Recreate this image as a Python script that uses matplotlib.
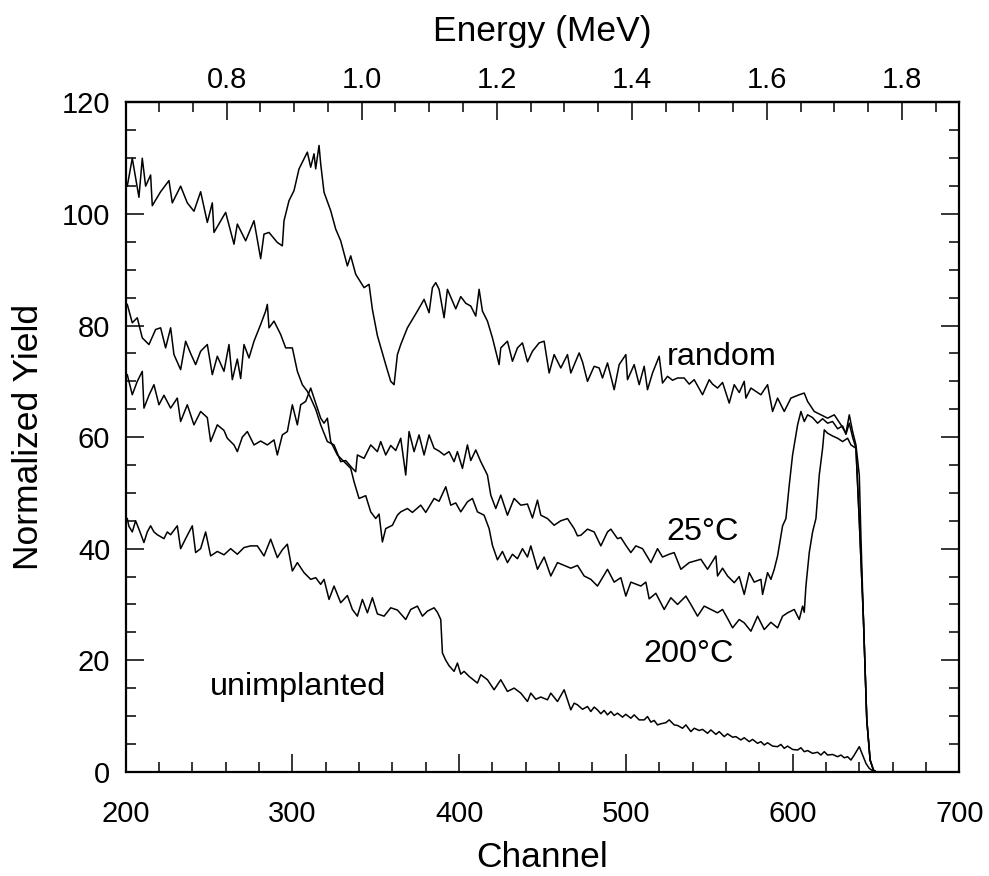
import matplotlib
matplotlib.use("Agg")
import matplotlib.pyplot as plt
from matplotlib.ticker import MultipleLocator
import numpy as np

plt.rcParams['font.family'] = ['Liberation Sans', 'DejaVu Sans']

# ---- data ----
random_ch = [201, 204, 208, 210, 212, 215, 216, 221, 226, 228, 233, 237, 241, 245, 249, 252, 253,
             260, 265, 267, 272, 277, 281, 283, 286, 291, 294, 295, 298, 301, 304, 307, 309, 311,
             313, 314, 316, 317, 319, 323, 326, 329, 333, 335, 338, 343, 346, 348, 351, 356, 359,
             361, 363, 365, 369, 372, 375, 379, 382, 384, 386, 388, 391, 393, 396, 398, 401, 404,
             407, 410, 412, 414, 417, 420, 424, 425, 429, 432, 435, 438, 441, 444, 448, 451, 454,
             457, 461, 465, 467, 472, 474, 477, 481, 484, 486, 489, 493, 496, 500, 501, 505, 508,
             511, 513, 516, 520, 522, 525, 528, 531, 535, 538, 541, 546, 550, 552, 555, 558, 562,
             565, 568, 571, 572, 575, 581, 585, 588, 591, 595, 599, 604, 607, 609, 613, 617, 621,
             625, 629, 632, 634, 636, 638, 640, 641, 642.5, 644.5, 646.5, 648.5, 650, 700]
random_y = [105, 110, 103, 110, 105, 107, 101.5, 104, 106, 102, 105, 102, 100.5, 104, 98.5, 102, 96.7,
            100.3, 94.6, 98.2, 95.2, 98.8, 92, 96.4, 96.7, 94.9, 94.3, 98.8, 102.4, 104.2, 108.1, 109.9, 111.1, 108.4,
            110.8, 108.1, 112.3, 109, 103.9, 100.6, 97.3, 95.2, 90.7, 92.5, 89.2, 86.8, 87.4, 82.9, 78.2, 73, 70,
            69.4, 74.8, 76.6, 79.6, 81.1, 82.6, 84.7, 82.3, 86.8, 87.7, 86.5, 81.4, 86.5, 84.4, 83, 85.2, 84,
            83.5, 81.7, 86.5, 82.6, 80.8, 77.8, 73, 76, 77.2, 73.6, 76, 76.9, 73.5, 75.4, 76.9, 77.2, 71.5,
            74.8, 72.4, 74.8, 71.5, 75.1, 73.5, 70, 72.7, 72.4, 70.6, 73.3, 68.5, 73, 74.8, 70.3, 73, 69.4,
            72.7, 68.5, 71.5, 74.5, 69.7, 70.9, 70.2, 70.6, 70.6, 69.5, 70.3, 67.6, 70.3, 69.5, 68.8, 69.8, 66.1,
            69.4, 68, 70, 67, 68.8, 67.6, 69.4, 64.6, 67, 64.6, 67, 67.6, 67.9, 66.4, 64.6, 64, 63.4,
            64, 62.2, 60.7, 64, 61, 58.6, 53.2, 42, 27.3, 9.3, 2.1, 0.3, 0, 0]

t25_ch = [201, 204, 207, 210, 214, 218, 221, 224, 227, 229, 233, 236, 239, 242, 245, 249, 252, 255,
          259, 262, 264, 267, 269, 271, 274, 277, 281, 284, 285, 286, 289, 293, 296, 300, 303, 306,
          309, 311, 314, 317, 321, 325, 329, 332, 336, 338, 339, 343, 347, 351, 353, 356, 359, 362,
          365, 368, 370, 373, 376, 379, 382, 385, 388, 391, 394, 397, 399, 402, 405, 407, 410, 413,
          417, 419, 422, 425, 429, 433, 437, 441, 444, 447, 449, 453, 457, 461, 465, 469, 471, 473,
          477, 481, 485, 489, 491, 495, 497, 500, 503, 506, 510, 515, 519, 522, 526, 529, 533, 538,
          545, 549, 554, 555, 558, 561, 565, 568, 571, 574, 577, 581, 582, 585, 587, 589, 591, 592,
          594, 596, 598, 600, 602, 603, 605, 607, 609, 612, 615, 618, 621, 624, 627, 630, 632, 634,
          636, 638, 640, 642.5, 644.5, 646.5, 648.5, 650, 700]
t25_y = [83.8, 80.5, 81.4, 77.8, 76.6, 79.3, 79.6, 76, 79.6, 74.8, 72.1, 77.2, 75, 73, 75.4, 76.6, 71.2, 74.5,
         71.8, 76.6, 70.3, 74, 70.5, 76.6, 74.2, 77.2, 80.2, 82.6, 83.8, 79.6, 80.8, 78.4, 76, 76, 71.8, 69.4,
         68.2, 67, 65, 62.2, 59.2, 58.6, 55.6, 55.8, 54.4, 53.8, 56.8, 56.2, 58.6, 57.4, 59.2, 56.8, 58.5, 57.6,
         59.8, 53.2, 61, 57.4, 60.4, 56.8, 60.4, 58, 57.5, 56.8, 57.4, 55.6, 57.4, 54.4, 58.6, 55.8, 57.7, 55.6,
         53.2, 49.6, 47.2, 49.6, 46, 49, 47.8, 48, 45.5, 48.7, 46, 45.4, 44.2, 45, 45.4, 43.6, 42.3, 42.4,
         43.5, 43, 40.5, 43, 43.5, 41.8, 42, 40.6, 39.3, 40.5, 40, 37.5, 40, 38.5, 39, 39.3, 36.3, 37.5,
         38.1, 36.3, 38.7, 35.1, 36.5, 35.1, 33.9, 35, 31.8, 35.7, 34, 34.5, 31.8, 35.7, 34.5, 36.3, 38.7, 40.5,
         44.1, 45.4, 51.4, 56.8, 60.4, 62.2, 64.6, 62.8, 64, 63.5, 62.5, 63.3, 62.5, 62.8, 61.5, 62, 60.5, 62.5,
         60, 58, 45, 27.3, 9.3, 2.1, 0.3, 0, 0]

t200_ch = [201, 204, 207, 210, 211, 214, 217, 220, 223, 227, 231, 233, 237, 241, 245, 249, 251, 255,
           259, 261, 265, 267, 270, 273, 277, 281, 285, 289, 291, 294, 297, 300, 303, 305, 308, 311,
           313, 317, 319, 321, 323, 327, 331, 335, 337, 340, 344, 347, 350, 352, 354, 356, 360, 363,
           365, 369, 372, 377, 380, 385, 388, 392, 395, 398, 401, 405, 408, 411, 415, 418, 420, 423,
           426, 429, 432, 435, 438, 441, 443, 447, 451, 455, 459, 463, 467, 471, 475, 479, 483, 489,
           493, 497, 500, 503, 509, 512, 514, 518, 523, 527, 531, 536, 539, 543, 547, 551, 555, 558,
           561, 564, 568, 571, 575, 579, 583, 587, 591, 594, 597, 601, 604, 606, 607, 608, 610, 612,
           614, 616, 618, 619, 621, 624, 627, 630, 633, 635, 638, 640, 642.5, 644.5, 646.5, 648.5, 650, 700]
t200_y = [71.2, 67.6, 70, 71.8, 65.2, 67.5, 69.4, 65.8, 67.5, 65.2, 67, 62.8, 65.8, 62.2, 64.6, 63.5, 59.2, 62.2,
          61.2, 59.8, 58.6, 57.4, 60, 61, 58.6, 59.3, 58.6, 59.5, 56.8, 60.4, 61, 65.8, 62.2, 65.8, 66.4, 68.8,
          67, 63.4, 62.5, 63.4, 59.2, 56.8, 55.6, 54.4, 52, 49, 49.5, 46.6, 45.4, 46.2, 41.2, 43.6, 44.2, 46,
          46.6, 47.2, 46.5, 47.8, 46.5, 49, 48.5, 51.1, 47.8, 48.2, 46.6, 48.4, 49, 46.6, 46, 43.6, 40.6, 38,
          39.5, 37.5, 39, 38.2, 40, 38.5, 40.5, 36.3, 38.5, 35.1, 37.5, 37, 36.5, 37, 35.1, 34.5, 33.3, 36.3,
          34, 34.8, 31.5, 34, 33.3, 34, 31, 32, 29.1, 31.2, 30, 31.5, 30, 27.9, 29.7, 29.1, 28.5, 29.1,
          27.5, 25.8, 27.3, 26.7, 25.2, 27.9, 25.5, 26.8, 25.8, 27.9, 28.5, 29.1, 27.3, 29.7, 28.6, 33.3, 39.3, 43,
          45.4, 53.2, 58, 61.3, 60.7, 60.2, 59.8, 59.2, 59.8, 58.6, 58, 45, 27.3, 9.3, 2.1, 0.3, 0, 0]

unimp_ch = [201, 202, 204, 206, 208, 211, 213, 215, 217, 219, 223, 225, 227, 231, 233, 236, 240, 242,
            245, 248, 251, 255, 259, 263, 267, 271, 275, 279, 283, 287, 291, 294, 297, 300, 303, 307,
            311, 314, 317, 319, 322, 325, 329, 333, 336, 339, 342, 345, 348, 351, 355, 359, 363, 368,
            371, 375, 378, 381, 385, 387, 389, 390, 392, 394, 397, 399, 401, 403, 406, 411, 413, 417,
            421, 425, 429, 433, 437, 441, 443, 446, 449, 453, 455, 459, 463, 467, 469, 471, 474, 477,
            479, 481, 483, 485, 487, 489, 491, 493, 495, 498, 500, 503, 505, 508, 511, 513, 515, 517,
            519, 521, 524, 526, 529, 531, 534, 536, 539, 541, 544, 546, 549, 551, 554, 556, 559, 561,
            564, 566, 569, 571, 574, 576, 579, 581, 583, 585, 588, 591, 593, 595, 597, 600, 603, 605,
            607, 609, 612, 615, 617, 619, 621, 624, 627, 629, 631, 633, 635, 637, 639, 640, 642, 644,
            646, 649, 700]
unimp_y = [45.4, 44, 43, 45, 43.5, 41.1, 43, 44.1, 43, 42.5, 41.8, 43, 42.5, 44.1, 40, 41.8, 44.1, 39.3,
           40, 43, 38.7, 39.5, 38.9, 40, 39, 40.2, 40.5, 40.5, 38.7, 41.7, 38.4, 39.8, 40.8, 36, 37.5, 35.7,
           34.5, 34.8, 33.6, 34.5, 30.9, 33.3, 30.3, 31.6, 29.1, 27.9, 30.9, 28.5, 31.2, 28.3, 27.9, 29.4, 29, 27.3,
           29.1, 29.7, 27.9, 28.8, 29.4, 28.6, 27.3, 21.3, 20, 19, 18, 19.5, 17.5, 18, 17.1, 15.9, 17.4, 16.5,
           14.7, 16.5, 14.4, 15, 14.1, 12.6, 14.1, 13, 13.4, 12.9, 14.1, 12.6, 14.7, 11.1, 12.3, 12, 11.2, 11.7,
           10.8, 11.6, 11.1, 10.4, 11, 10.2, 10.8, 10.1, 10.5, 9.8, 10.3, 9.6, 10.2, 9.3, 9.3, 9.9, 8.9, 9.2,
           8.4, 8.6, 8.8, 9.3, 8.4, 8.3, 7.8, 8.4, 7.2, 7.8, 7.4, 7.6, 6.9, 7.5, 6.7, 7.2, 6.3, 6.8,
           6.2, 6.3, 5.7, 6.1, 5.4, 5.8, 5.1, 5.4, 4.8, 5.2, 4.6, 4.5, 4.9, 4.2, 4.6, 4.0, 3.9, 4.3,
           3.6, 3.8, 3.3, 3.5, 3.0, 3.6, 3.0, 3.1, 2.7, 3.0, 2.5, 2.7, 2.1, 3.0, 4.0, 4.5, 3, 1.5,
           0.6, 0, 0]

labels = ["random", "25°C", "200°C", "unimplanted"]
label_pos = [(524.5, 72.9), (524.5, 41.5), (510.5, 19.7), (250.6, 13.7)]

# energy calibration (channel -> MeV)
E0, CH0, SLOPE = 0.8, 260.6, 0.2 / 81.0

def ch2e(c):
    return E0 + (np.asarray(c, dtype=float) - CH0) * SLOPE

def e2ch(e):
    return CH0 + (np.asarray(e, dtype=float) - E0) / SLOPE

fig = plt.figure(figsize=(9.89, 8.76), dpi=100)
ax = fig.add_axes([0.127, 0.119, 0.843, 0.764])

for xs, ys in [(random_ch, random_y), (t25_ch, t25_y), (t200_ch, t200_y), (unimp_ch, unimp_y)]:
    ax.plot(xs, ys, color='black', lw=1.1)

for txt, (x, y) in zip(labels, label_pos):
    ax.text(x, y, txt, fontsize=23.3, ha='left', va='baseline')

ax.set_xlim(200, 700)
ax.set_ylim(0, 120)
ax.xaxis.set_major_locator(MultipleLocator(100))
ax.xaxis.set_minor_locator(MultipleLocator(20))
ax.yaxis.set_major_locator(MultipleLocator(20))
ax.yaxis.set_minor_locator(MultipleLocator(5))
ax.tick_params(which='both', direction='in', top=False, bottom=True, left=True, right=True,
               labelsize=21, width=1.1)
ax.tick_params(which='major', length=13)
ax.tick_params(which='minor', length=7)
ax.tick_params(axis='x', pad=20)
ax.tick_params(axis='y', pad=11)
for s in ax.spines.values():
    s.set_linewidth(1.6)

ax.set_xlabel("Channel", fontsize=25.5, labelpad=10)
ax.set_ylabel("Normalized Yield", fontsize=25.5, labelpad=12)

sec = ax.secondary_xaxis('top', functions=(ch2e, e2ch))
sec.set_xticks([0.8, 1.0, 1.2, 1.4, 1.6, 1.8])
sec.set_xticklabels(["0.8", "1.0", "1.2", "1.4", "1.6", "1.8"])
sec.xaxis.set_minor_locator(MultipleLocator(0.05))
sec.tick_params(which='both', direction='in', labelsize=21, width=1.1, pad=6)
sec.tick_params(which='major', length=13)
sec.tick_params(which='minor', length=7)
sec.spines['top'].set_linewidth(1.6)
sec.set_xlabel("Energy (MeV)", fontsize=25.5, labelpad=18)

fig.savefig("out.png", dpi=100)
